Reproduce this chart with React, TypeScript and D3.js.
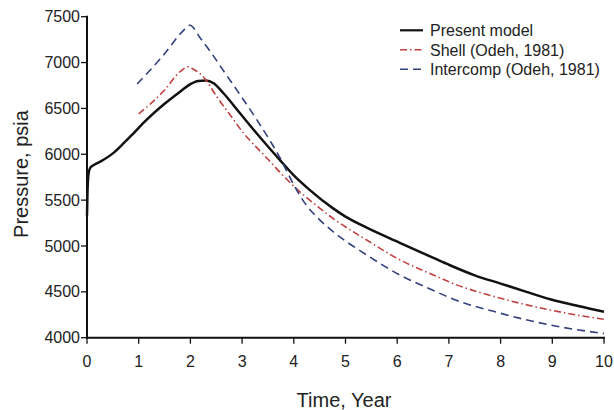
import React from "react";
import * as d3 from "d3";

const presentT = [0, 0.01, 0.03, 0.06, 0.1, 0.18, 0.32, 0.5, 0.7, 0.9, 1.15, 1.5, 1.8, 2.0, 2.15, 2.3, 2.45, 2.64, 2.96, 3.28, 3.5, 3.72, 4.0, 4.3, 4.76, 5.0, 5.41, 6.05, 6.7, 7.02, 7.5, 8.0, 8.5, 8.96, 9.5, 10];
const presentV = [5330, 5600, 5790, 5850, 5872, 5897, 5940, 6010, 6115, 6229, 6374, 6550, 6682, 6765, 6800, 6805, 6775, 6665, 6447, 6229, 6085, 5945, 5770, 5615, 5410, 5320, 5200, 5035, 4870, 4790, 4680, 4590, 4500, 4420, 4346, 4284];

const shellT = [1.0, 1.5, 1.8, 1.96, 2.05, 2.25, 2.51, 2.77, 3.03, 3.28, 3.51, 3.73, 4.06, 4.44, 4.76, 5.41, 6.05, 6.7, 7.02, 8.0, 8.96, 10];
const shellV = [6440, 6700, 6900, 6955, 6930, 6846, 6628, 6428, 6229, 6075, 5940, 5805, 5620, 5440, 5300, 5065, 4850, 4684, 4605, 4430, 4302, 4200];

const interT = [0.97, 1.48, 1.85, 1.99, 2.2, 2.43, 2.64, 2.96, 3.28, 3.57, 3.73, 3.86, 4.02, 4.21, 4.44, 4.76, 5.41, 6.05, 6.7, 7.02, 8.0, 8.96, 10];
const interV = [6766, 7082, 7340, 7407, 7260, 7085, 6910, 6650, 6380, 6120, 5965, 5820, 5646, 5470, 5319, 5156, 4902, 4684, 4515, 4435, 4266, 4138, 4045];

const xTicks = [0, 1, 2, 3, 4, 5, 6, 7, 8, 9, 10];
const yTicks = [4000, 4500, 5000, 5500, 6000, 6500, 7000, 7500];

const seriesNames = ["Present model", "Shell (Odeh, 1981)", "Intercomp (Odeh, 1981)"];
const seriesColors = ["#111111", "#c0403f", "#33407e"];
const seriesDash = ["none", "7,3,1.5,3", "8,5"];
const seriesWidth = [2.5, 1.6, 1.6];

const W = 614;
const H = 410;
const left = 87;
const right = 604;
const top = 16.7;
const bottom = 337.7;
const font = "'Liberation Sans', Arial, Helvetica, sans-serif";

export default function App() {
  const x = d3.scaleLinear().domain([0, 10]).range([left, right]);
  const y = d3.scaleLinear().domain([4000, 7500]).range([bottom, top]);
  const line = d3
    .line<[number, number]>()
    .x((d) => x(d[0]))
    .y((d) => y(d[1]))
    .curve(d3.curveMonotoneX);

  const series = [
    d3.zip(presentT, presentV) as [number, number][],
    d3.zip(shellT, shellV) as [number, number][],
    d3.zip(interT, interV) as [number, number][],
  ];

  return (
    <svg
      width={W}
      height={H}
      style={{ position: "absolute", left: 0, top: 0, background: "#fff" }}
      fontFamily={font}
    >
      {series.map((s, i) => (
        <path
          key={i}
          d={line(s) || ""}
          fill="none"
          stroke={seriesColors[i]}
          strokeWidth={seriesWidth[i]}
          strokeDasharray={seriesDash[i]}
          strokeLinejoin="round"
        />
      ))}

      {/* y axis */}
      <line x1={left} x2={left} y1={y(7500) - 1} y2={bottom + 1} stroke="#111" strokeWidth={2} />
      {yTicks.map((t) => (
        <g key={t}>
          <line x1={left - 6} x2={left} y1={y(t)} y2={y(t)} stroke="#111" strokeWidth={1.3} />
          <text x={left - 7} y={y(t)} dy="0.35em" textAnchor="end" fontSize={16} fill="#222">
            {t}
          </text>
        </g>
      ))}

      {/* x axis */}
      <line x1={left - 1} x2={right + 1} y1={bottom} y2={bottom} stroke="#111" strokeWidth={2} />
      {xTicks.map((t) => (
        <g key={t}>
          <line x1={x(t)} x2={x(t)} y1={bottom} y2={bottom + 6} stroke="#111" strokeWidth={1.3} />
          <text x={x(t)} y={366.5} textAnchor="middle" fontSize={16} fill="#222">
            {t}
          </text>
        </g>
      ))}

      {/* axis titles */}
      <text x={344} y={407} textAnchor="middle" fontSize={20} fill="#222">
        Time, Year
      </text>
      <text transform="translate(28,174) rotate(-90)" textAnchor="middle" fontSize={20} fill="#222">
        Pressure, psia
      </text>

      {/* legend */}
      {seriesNames.map((n, i) => {
        const ly = 30.3 + i * 19.5;
        return (
          <g key={n}>
            <line
              x1={400}
              x2={423}
              y1={ly}
              y2={ly}
              stroke={seriesColors[i]}
              strokeWidth={i === 0 ? 2.2 : 1.6}
              strokeDasharray={seriesDash[i]}
            />
            <text x={430} y={ly} dy="0.36em" fontSize={16} fill="#222">
              {n}
            </text>
          </g>
        );
      })}
    </svg>
  );
}
